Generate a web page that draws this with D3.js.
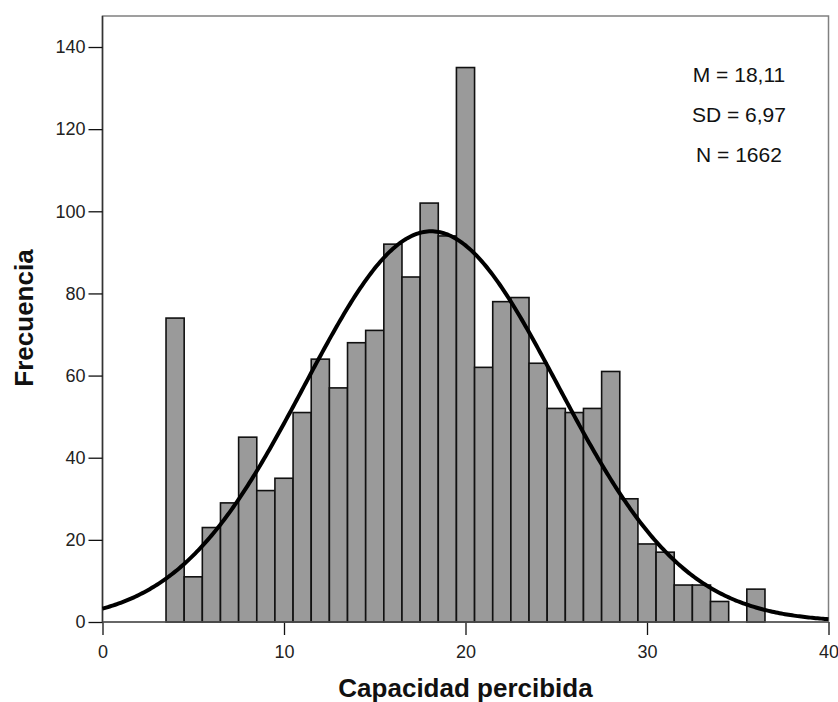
<!DOCTYPE html>
<html lang="es">

<head>
  <meta charset="UTF-8">
  <title>Capacidad percibida</title>
  <style>
    body {
      margin: 0;
      background: #fff;
      font-family: Arial, "Liberation Sans", sans-serif;
    }

    .axis text {
      font-size: 18px;
      fill: #222;
    }

    .axis line {
      stroke: #111;
      stroke-width: 1.3;
    }

    .bar {
      fill: #9a9a9a;
      stroke: #111;
      stroke-width: 1.6;
    }

    .curve {
      fill: none;
      stroke: #000;
      stroke-width: 4;
    }

    .title {
      font-size: 26px;
      font-weight: bold;
      fill: #111;
    }

    .stat {
      font-size: 21px;
      fill: #111;
    }
  </style>
</head>

<body>
  <svg></svg>
</body>
<script src="https://cdn.jsdelivr.net/npm/d3@7"></script>
<script>

  // histogram bins (centre of each unit-wide bin) and counts
  let binCenters = [4, 5, 6, 7, 8, 9, 10, 11, 12, 13, 14, 15, 16, 17, 18, 19, 20,
    21, 22, 23, 24, 25, 26, 27, 28, 29, 30, 31, 32, 33, 34, 35, 36];
  let counts = [74, 11, 23, 29, 45, 32, 35, 51, 64, 57, 68, 71, 92, 84, 102, 94, 135,
    62, 78, 79, 63, 52, 51, 52, 61, 30, 19, 17, 9, 9, 5, 0, 8];

  let xTicks = [0, 10, 20, 30, 40];
  let yTicks = [0, 20, 40, 60, 80, 100, 120, 140];

  let mean = 18.11, sd = 6.97, n = 1662;
  let statLabels = ['M = 18,11', 'SD = 6,97', 'N = 1662'];

  let width = 838,
    height = 702;

  let plotLeft = 102.5, plotRight = 828.5, plotTop = 16, plotBottom = 622;

  let svg = d3.select('svg')
    .attr('width', width)
    .attr('height', height);

  let x = d3.scaleLinear().domain([0, 40]).range([plotLeft, plotRight]);
  let y = d3.scaleLinear().domain([0, 147.55]).range([plotBottom, plotTop]);

  // frame
  svg.append('rect')
    .attr('x', plotLeft)
    .attr('y', plotTop)
    .attr('width', plotRight - plotLeft)
    .attr('height', plotBottom - plotTop)
    .attr('fill', 'none')
    .attr('stroke', '#808080')
    .attr('stroke-width', 1.5);

  svg.append('line')
    .attr('x1', plotLeft).attr('x2', plotLeft)
    .attr('y1', plotTop).attr('y2', plotBottom)
    .attr('stroke', '#333')
    .attr('stroke-width', 1.5);

  // bars
  let bars = binCenters.map((c, i) => ({ c: c, v: counts[i] })).filter(d => d.v > 0);

  svg.selectAll('.bar')
    .data(bars)
    .enter()
    .append('rect')
    .attr('class', 'bar')
    .attr('x', d => x(d.c - 0.5))
    .attr('width', d => x(d.c + 0.5) - x(d.c - 0.5))
    .attr('y', d => y(d.v))
    .attr('height', d => y(0) - y(d.v));

  // normal curve from M, SD and N (bin width 1)
  let curvePts = d3.range(0, 40.01, 0.1).map(v => [v,
    n / (sd * Math.sqrt(2 * Math.PI)) * Math.exp(-Math.pow(v - mean, 2) / (2 * sd * sd))]);

  svg.append('path')
    .datum(curvePts)
    .attr('class', 'curve')
    .attr('d', d3.line().x(d => x(d[0])).y(d => y(d[1])));

  // axes
  let gx = svg.append('g')
    .attr('class', 'axis')
    .attr('transform', `translate(0,${plotBottom})`)
    .call(d3.axisBottom(x).tickValues(xTicks).tickSize(13).tickPadding(10));
  gx.select('.domain').remove();

  let gy = svg.append('g')
    .attr('class', 'axis')
    .attr('transform', `translate(${plotLeft},0)`)
    .call(d3.axisLeft(y).tickValues(yTicks).tickSize(14).tickPadding(3));
  gy.select('.domain').remove();

  svg.append('line')
    .attr('x1', plotLeft).attr('x2', plotRight)
    .attr('y1', plotBottom).attr('y2', plotBottom)
    .attr('stroke', '#555')
    .attr('stroke-width', 1.5);

  // titles
  svg.append('text')
    .attr('class', 'title')
    .attr('x', (plotLeft + plotRight) / 2)
    .attr('y', 697)
    .attr('text-anchor', 'middle')
    .text('Capacidad percibida');

  svg.append('text')
    .attr('class', 'title')
    .attr('transform', 'translate(33,318) rotate(-90)')
    .attr('text-anchor', 'middle')
    .text('Frecuencia');

  svg.selectAll('.stat')
    .data(statLabels)
    .enter()
    .append('text')
    .attr('class', 'stat')
    .attr('x', 739)
    .attr('y', (d, i) => 82 + i * 40)
    .attr('text-anchor', 'middle')
    .text(d => d);
</script>

</html>
